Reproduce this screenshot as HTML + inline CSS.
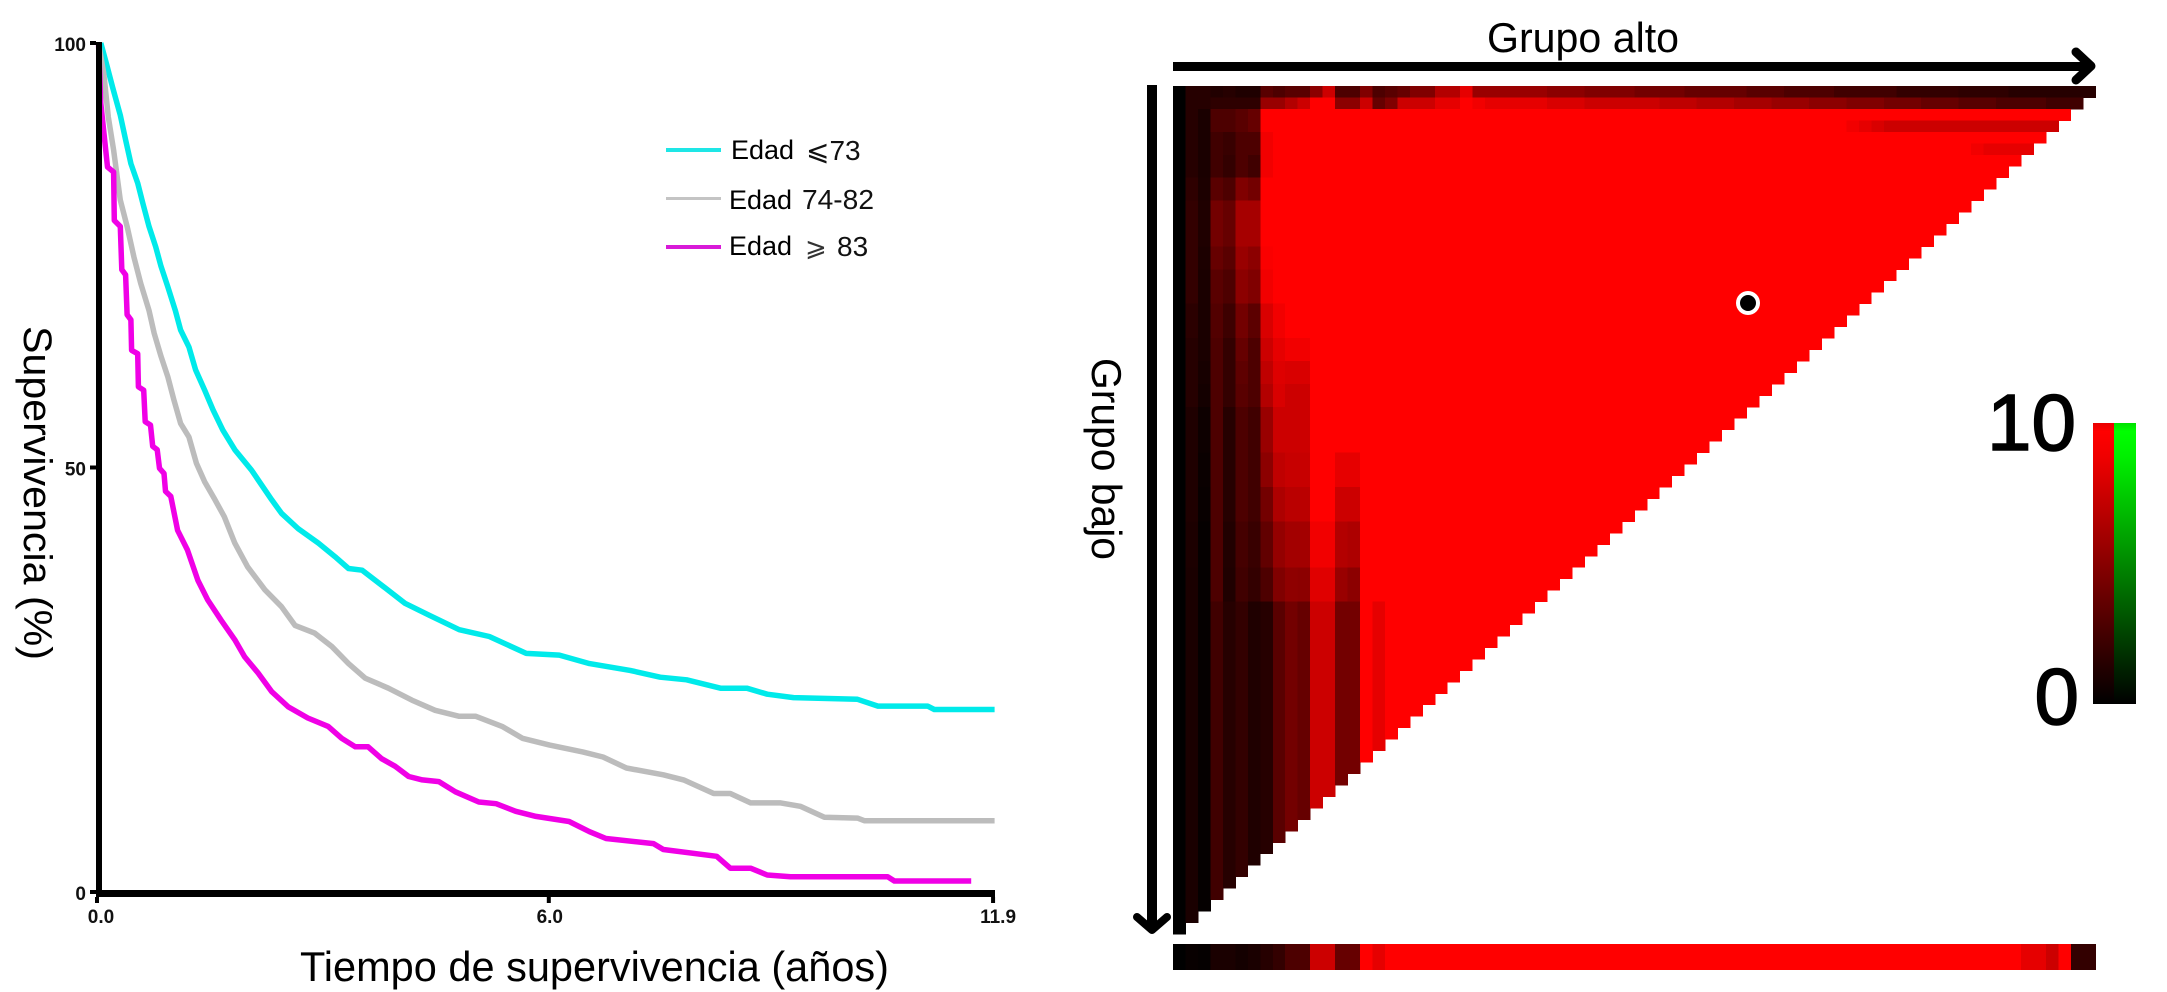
<!DOCTYPE html>
<html lang="es">
<head>
<meta charset="utf-8">
<title>Supervivencia y mapa de calor</title>
<style>
html,body{margin:0;padding:0;background:#fff;}
svg{position:absolute;left:0;top:0;display:block;font-family:"Liberation Sans",Arial,sans-serif;}
</style>
</head>
<body>
<svg id="figure" xmlns="http://www.w3.org/2000/svg" width="2167" height="992" viewBox="0 0 2167 992">
  <defs>
    <linearGradient id="redScale" x1="0" y1="0" x2="0" y2="1">
      <stop offset="0" stop-color="#e80000"/><stop offset="0.03" stop-color="#ff0000"/><stop offset="0.12" stop-color="#f00000"/><stop offset="1" stop-color="#000000"/>
    </linearGradient>
    <linearGradient id="greenScale" x1="0" y1="0" x2="0" y2="1">
      <stop offset="0" stop-color="#00e000"/><stop offset="0.03" stop-color="#00ff00"/><stop offset="0.12" stop-color="#00f000"/><stop offset="1" stop-color="#000000"/>
    </linearGradient>
  </defs>

  <g id="survival-chart">
    <g id="curves"></g>
    <rect x="96" y="42" width="6" height="855" fill="#000"/>
    <rect x="96" y="890" width="899" height="7" fill="#000"/>
    <g id="axis-ticks"></g>
    <text x="300" y="981" font-size="42" textLength="589" lengthAdjust="spacingAndGlyphs" fill="#000">Tiempo de supervivencia (años)</text>
    <text transform="translate(24,326) rotate(90)" font-size="40" textLength="334" lengthAdjust="spacingAndGlyphs" fill="#000">Supervivencia (%)</text>

    <g>
      <rect x="666" y="148" width="55" height="4" fill="#1ee6e6"/>
      <text x="731" y="159" font-size="27" fill="#000">Edad</text>
      <text x="806" y="160" font-size="28" fill="#111" style='font-family:"Liberation Sans","DejaVu Sans",sans-serif'>⩽73</text>
      <rect x="666" y="197" width="55" height="3" fill="#c4c4c4"/>
      <text x="729" y="209" font-size="27" fill="#000">Edad</text>
      <text x="802" y="209" font-size="28" textLength="72" lengthAdjust="spacingAndGlyphs" fill="#111">74-82</text>
      <rect x="666" y="245" width="55" height="4" fill="#d81ad8"/>
      <text x="729" y="255" font-size="27" fill="#000">Edad</text>
      <text x="805" y="256" font-size="26" fill="#333" style='font-family:"DejaVu Sans",sans-serif'>⩾</text>
      <text x="837" y="256" font-size="28" fill="#111">83</text>
    </g>
  </g>

  <g id="heatmap-panel">
    <text x="1487" y="52" font-size="42" textLength="192" lengthAdjust="spacingAndGlyphs" fill="#000">Grupo alto</text>
    <text transform="translate(1092,358) rotate(90)" font-size="42" textLength="202" lengthAdjust="spacingAndGlyphs" fill="#000">Grupo bajo</text>
    <g>
      <rect x="1173" y="62" width="914" height="9" fill="#000"/>
      <path d="M2076 52 L2091 66 L2076 80" fill="none" stroke="#000" stroke-width="9" stroke-linecap="round" stroke-linejoin="round"/>
    </g>
    <g>
      <rect x="1147" y="85" width="10" height="845" fill="#000"/>
      <path d="M1137 917 L1152 930 L1167 917" fill="none" stroke="#000" stroke-width="8" stroke-linecap="round" stroke-linejoin="round"/>
    </g>
    <g id="heat-cells" shape-rendering="crispEdges"></g>
    <g id="summary-cells" shape-rendering="crispEdges"></g>
    <g>
      <circle cx="1748" cy="303" r="12" fill="#fff"/>
      <circle cx="1748" cy="303" r="8" fill="#000"/>
    </g>
    <g>
      <rect x="2093" y="423" width="21" height="281" fill="url(#redScale)"/>
      <rect x="2114" y="423" width="22" height="281" fill="url(#greenScale)"/>
      <text x="2076" y="450" font-size="80" text-anchor="end" fill="#000" stroke="#000" stroke-width="1.5">10</text>
      <text x="2079" y="724" font-size="80" text-anchor="end" fill="#000" stroke="#000" stroke-width="1.5">0</text>
    </g>
  </g>
</svg>

<script>
// ---------- Survival chart data ----------
const yTickValues = [100, 50, 0];
const yTickLabels = ["100", "50", "0"];
const xTickValues = [0, 6, 11.9];
const xTickLabels = ["0.0", "6.0", "11.9"];

const cyanTimes = [0.05,0.13,0.21,0.31,0.38,0.45,0.54,0.61,0.69,0.78,0.85,0.94,1.04,1.11,1.22,1.31,1.43,1.54,1.67,1.83,2.05,2.32,2.45,2.67,2.94,3.16,3.34,3.52,3.83,4.09,4.41,4.81,5.21,5.70,6.14,6.54,7.08,7.48,7.83,8.28,8.63,8.90,9.25,10.10,10.37,11.03,11.12,11.92];
const cyanValues = [100,97.4,94.7,91.5,88.6,85.8,83.5,81.1,78.4,76.0,73.7,71.3,68.5,66.2,64.2,61.5,59.1,56.8,54.4,52.1,49.7,46.2,44.6,42.8,41.1,39.5,38.1,37.9,35.8,34.0,32.6,30.9,30.1,28.1,27.9,26.9,26.1,25.3,25.0,24.0,24.0,23.3,22.9,22.7,21.9,21.9,21.5,21.5];

const greyTimes = [0.02,0.09,0.15,0.22,0.31,0.40,0.49,0.58,0.69,0.76,0.85,0.94,1.02,1.11,1.22,1.32,1.43,1.56,1.69,1.83,2.00,2.23,2.45,2.63,2.89,3.12,3.34,3.56,3.87,4.18,4.49,4.81,5.03,5.38,5.65,6.01,6.45,6.72,7.03,7.52,7.79,8.19,8.41,8.68,9.08,9.34,9.66,10.10,10.19,11.92];
const greyValues = [100,96.4,91.3,87.4,81.5,78.4,74.8,71.7,68.5,65.8,63.1,60.7,58.0,55.2,53.6,50.5,48.3,46.3,44.2,41.1,38.3,35.6,33.6,31.4,30.5,28.9,26.9,25.2,24.0,22.6,21.4,20.7,20.7,19.5,18.1,17.3,16.5,15.9,14.6,13.8,13.2,11.6,11.6,10.5,10.5,10.1,8.8,8.7,8.4,8.4];

const magentaTimes = [0.02,0.05,0.14,0.22,0.23,0.31,0.33,0.38,0.40,0.45,0.46,0.54,0.55,0.62,0.64,0.71,0.74,0.80,0.83,0.89,0.91,0.98,1.07,1.20,1.34,1.47,1.65,1.83,1.96,2.14,2.32,2.54,2.80,3.07,3.25,3.43,3.60,3.78,3.96,4.14,4.32,4.54,4.76,5.07,5.30,5.56,5.83,6.27,6.54,6.76,7.39,7.52,8.23,8.41,8.68,8.90,9.21,10.50,10.59,11.61];
const magentaValues = [100,92.9,85.4,84.8,79.1,78.4,73.3,72.7,68.0,67.4,63.8,63.4,59.5,59.1,55.4,55.0,52.5,52.1,49.9,49.3,47.2,46.6,42.6,40.3,36.7,34.4,32.0,29.7,27.7,25.8,23.6,21.8,20.5,19.5,18.1,17.1,17.1,15.7,14.8,13.6,13.2,13.0,11.8,10.6,10.4,9.5,8.9,8.3,7.1,6.3,5.7,5.0,4.2,2.8,2.8,2.0,1.8,1.8,1.3,1.3];

// ---------- Heatmap data (values on the 0-10 colour scale) ----------
const heatTopRow0 = [0,1.5,1.5,1.3,1.5,1.2,1.2,3.5,3,3.5,3.5,5.5,8,3,3,5,3,3.5,4,5,5,7,7,9,6,6,6,6,6,6,5.5,5.5,5.5,5,5,5,5,4.5,4.5,4.5,4.5,4,4,4,4,4,3.5,3.5,3.5,3,3,3,3,2.5,2.5,2.5,2.5,2.5,2,2,2,2,2,1.8,1.8,1.8,1.8,1.5,1.5,1.5,1.5,1.5,1.5,1.5];
const heatTopRow1 = [0,1.5,1.5,1.8,1.8,1.8,1.8,6,6,7,8,10,10,5.5,5.5,8,4,5,8,8,8,9,9,10,9.5,9,9,9,9,9,8.5,8.5,8.5,8,8,8,8,8,8,7.5,7.5,7.5,7,7,7,6.5,6.5,6.5,6,6,6,5.5,5.5,5.5,5,5,5,4.5,4.5,4.5,4,4,4,3.5,3.5,3.5,3,3,3,3,2.5,2.5,2.5];
const heatBandRowCounts = [2,2,2,2,4,2,3,3,2,2,2,4,3,3,4,3,29];
const heatBandValues = [
  [0,1.5,1,3,3,3.5,4,10],
  [0,1.5,1,2.5,2.2,3,3,9.5],
  [0,1.5,1,2.5,2,3,2.5,9.5],
  [0,1.8,1.1,3.5,3,5,4.5,10],
  [0,2,1.2,4.5,4,6.5,6.5,10],
  [0,2,1.1,4,3.5,6,5.5,9.8],
  [0,2,1,3.5,3,5.5,5,9.5],
  [0,1.7,1,3.2,2.4,4.5,3.6,8.5,9.5],
  [0,1.5,1,3,2,4,3,8,9,9.5,9.5],
  [0,1.5,0.9,3,2,3.7,3,7.5,8.7,8.5,8.5],
  [0,1.5,0.8,3,2,3.5,3,7,8.5,8,8],
  [0,1.2,0.5,3,1.5,3,2.5,6,8,8,8],
  [0,1.2,0.4,3,1.5,3,2.5,5.5,7.5,7.8,7.8,10,10,9,9],
  [0,1.2,0.3,3,1.5,3,2.5,4.5,6.8,7.3,7.3,10,10,8,8],
  [0,1.1,0.2,3,1.3,2.7,2.2,3.8,5.8,6.4,6.4,9.5,9.5,7,6.8],
  [0,1,0.2,3,1.2,2.5,2,3,5,5.6,5.5,8.8,8.8,6,5.5],
  [0,1,0.2,2.5,1.5,2,1.2,1.5,3.5,4.5,4,8,8,4.5,4.5,10,9]
];
const heatSaturatedValue = 10;
const heatRow3Tail = [9.5,9,8.5,8,8,8,8,8,8,8,8,8,8,8,8,8,8];
const heatRow3TailStartColumn = 54;
const heatRow5Tail = [9.5,9,9,9,9];
const heatRow5TailStartColumn = 64;
const summaryValues = [0,0.3,0.2,1,1,0.8,1,1.5,2,3,3,8,8,4,4,10,9,10,10,10,10,10,10,10,10,10,10,10,10,10,10,10,10,10,10,10,10,10,10,10,10,10,10,10,10,10,10,10,10,10,10,10,10,10,10,10,10,10,10,10,10,10,10,10,10,10,10,10,9,9,8,10,2,2];

// ---------- Scales ----------
const svgNS = "http://www.w3.org/2000/svg";
function xAxis(t){ return 97 + t * 75.3; }
function yAxis(v){ return 892 - v * 8.49; }
const heatLeft = 1173, heatTop = 86, heatCellW = 12.47, heatCellH = 11.46, heatCount = 74;
function heatX(c){ return heatLeft + c * heatCellW; }
function heatY(r){ return heatTop + r * heatCellH; }
function heatColor(v){ return "rgb(" + Math.round(Math.max(0, Math.min(10, v)) * 25.5) + ",0,0)"; }

// ---------- Survival curves ----------
function curvePath(times, values){
  let d = "M" + xAxis(times[0]).toFixed(1) + " " + yAxis(values[0]).toFixed(1);
  for (let i = 1; i < times.length; i++){
    d += "L" + xAxis(times[i]).toFixed(1) + " " + yAxis(values[i]).toFixed(1);
  }
  return d;
}
const curvesGroup = document.getElementById("curves");
function addCurve(name, times, values, color){
  const p = document.createElementNS(svgNS, "path");
  p.setAttribute("d", curvePath(times, values));
  p.setAttribute("fill", "none");
  p.setAttribute("stroke", color);
  p.setAttribute("stroke-width", "5.5");
  p.setAttribute("stroke-linejoin", "round");
  
  
  curvesGroup.appendChild(p);
}
addCurve("curve-edad-73", cyanTimes, cyanValues, "#00eaea");
addCurve("curve-edad-74-82", greyTimes, greyValues, "#bcbcbc");
addCurve("curve-edad-83", magentaTimes, magentaValues, "#f000e6");

// ---------- Axis ticks ----------
const tickGroup = document.getElementById("axis-ticks");
yTickValues.forEach(function(v, i){
  const y = yAxis(v);
  const tick = document.createElementNS(svgNS, "rect");
  tick.setAttribute("x", 90);
  tick.setAttribute("y", y - 2);
  tick.setAttribute("width", 6);
  tick.setAttribute("height", 4);
  tick.setAttribute("fill", "#000");
  
  
  tickGroup.appendChild(tick);
  const label = document.createElementNS(svgNS, "text");
  label.setAttribute("x", 86);
  label.setAttribute("y", y + 8);
  label.setAttribute("text-anchor", "end");
  label.setAttribute("font-size", "19");
  label.setAttribute("font-weight", "bold");
  label.setAttribute("fill", "#111");
  label.textContent = yTickLabels[i];
  
  
  tickGroup.appendChild(label);
});
xTickValues.forEach(function(t, i){
  const x = xAxis(t);
  const tick = document.createElementNS(svgNS, "rect");
  tick.setAttribute("x", x - 2);
  tick.setAttribute("y", 897);
  tick.setAttribute("width", 4);
  tick.setAttribute("height", 6);
  tick.setAttribute("fill", "#000");
  
  
  tickGroup.appendChild(tick);
  const label = document.createElementNS(svgNS, "text");
  label.setAttribute("x", x + (i === 0 ? 4 : i === 2 ? 5 : 1));
  label.setAttribute("y", 923);
  label.setAttribute("text-anchor", "middle");
  label.setAttribute("font-size", "19");
  label.setAttribute("font-weight", "bold");
  label.setAttribute("fill", "#111");
  label.textContent = xTickLabels[i];
  
  
  tickGroup.appendChild(label);
});

// ---------- Heatmap ----------
function buildBandRows(){
  const rows = [];
  heatBandRowCounts.forEach(function(count, b){
    for (let k = 0; k < count; k++) rows.push(heatBandValues[b]);
  });
  return rows;
}
const bandRows = buildBandRows();
function cellValue(r, c){
  if (r === 0) return heatTopRow0[c];
  if (r === 1) return heatTopRow1[c];
  if (r === 3 && c >= heatRow3TailStartColumn && c - heatRow3TailStartColumn < heatRow3Tail.length) return heatRow3Tail[c - heatRow3TailStartColumn];
  if (r === 5 && c >= heatRow5TailStartColumn && c - heatRow5TailStartColumn < heatRow5Tail.length) return heatRow5Tail[c - heatRow5TailStartColumn];
  const band = bandRows[r - 2];
  if (band && c < band.length) return band[c];
  return heatSaturatedValue;
}
const heatGroup = document.getElementById("heat-cells");
for (let r = 0; r < heatCount; r++){
  for (let c = 0; c < heatCount - r; c++){
    const cell = document.createElementNS(svgNS, "rect");
    cell.setAttribute("x", heatX(c).toFixed(2));
    cell.setAttribute("y", heatY(r).toFixed(2));
    cell.setAttribute("width", (heatCellW + 0.4).toFixed(2));
    cell.setAttribute("height", (heatCellH + 0.4).toFixed(2));
    cell.setAttribute("fill", heatColor(cellValue(r, c)));
    
    
    heatGroup.appendChild(cell);
  }
}
const summaryGroup = document.getElementById("summary-cells");
summaryValues.forEach(function(v, c){
  const cell = document.createElementNS(svgNS, "rect");
  cell.setAttribute("x", heatX(c).toFixed(2));
  cell.setAttribute("y", 944);
  cell.setAttribute("width", (heatCellW + 0.4).toFixed(2));
  cell.setAttribute("height", 26);
  cell.setAttribute("fill", heatColor(v));
  
  
  summaryGroup.appendChild(cell);
});
</script>
</body>
</html>
